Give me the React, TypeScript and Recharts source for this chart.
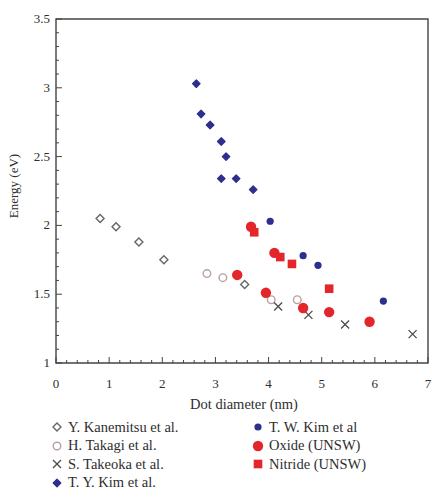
import { ScatterChart, Scatter, XAxis, YAxis, ReferenceArea, Label } from 'recharts'

// dot diameter (nm) vs energy (eV)
const kanemitsu = [
  { x: 0.83, y: 2.05 },
  { x: 1.13, y: 1.99 },
  { x: 1.56, y: 1.88 },
  { x: 2.03, y: 1.75 },
  { x: 3.55, y: 1.57 },
]
const takagi = [
  { x: 2.84, y: 1.65 },
  { x: 3.14, y: 1.62 },
  { x: 4.05, y: 1.46 },
  { x: 4.54, y: 1.46 },
]
const takeoka = [
  { x: 4.18, y: 1.41 },
  { x: 4.75, y: 1.35 },
  { x: 5.44, y: 1.28 },
  { x: 6.71, y: 1.21 },
]
const tyKim = [
  { x: 2.64, y: 3.03 },
  { x: 2.73, y: 2.81 },
  { x: 2.9, y: 2.73 },
  { x: 3.11, y: 2.61 },
  { x: 3.2, y: 2.5 },
  { x: 3.11, y: 2.34 },
  { x: 3.39, y: 2.34 },
  { x: 3.71, y: 2.26 },
]
const twKim = [
  { x: 4.03, y: 2.03 },
  { x: 4.65, y: 1.78 },
  { x: 4.93, y: 1.71 },
  { x: 6.16, y: 1.45 },
]
const oxide = [
  { x: 3.41, y: 1.64 },
  { x: 3.95, y: 1.51 },
  { x: 4.65, y: 1.4 },
  { x: 5.14, y: 1.37 },
  { x: 5.9, y: 1.3 },
  { x: 3.67, y: 1.99 },
  { x: 4.11, y: 1.8 },
]
const nitride = [
  { x: 3.73, y: 1.95 },
  { x: 4.22, y: 1.77 },
  { x: 4.44, y: 1.72 },
  { x: 5.14, y: 1.54 },
]

const xTicks = [0, 0.2, 0.4, 0.6, 0.8, 1, 1.2, 1.4, 1.6, 1.8, 2, 2.2, 2.4, 2.6, 2.8, 3, 3.2, 3.4, 3.6, 3.8, 4, 4.2, 4.4, 4.6, 4.8, 5, 5.2, 5.4, 5.6, 5.8, 6, 6.2, 6.4, 6.6, 6.8, 7]
const yTicks = [1, 1.1, 1.2, 1.3, 1.4, 1.5, 1.6, 1.7, 1.8, 1.9, 2, 2.1, 2.2, 2.3, 2.4, 2.5, 2.6, 2.7, 2.8, 2.9, 3, 3.1, 3.2, 3.3, 3.4, 3.5]
const yLabels = ['1', '1.5', '2', '2.5', '3', '3.5']

const FONT = 'Liberation Serif, Times New Roman, DejaVu Serif, serif'
const INK = '#2e2e2e'
const AXIS = '#444'
const GRAY = '#666'
const PINK = '#b99ea3'
const BLUE = '#2c2f8c'
const RED = '#e3262b'

const isMajorX = (v: number) => Math.abs(v - Math.round(v)) < 1e-6
const isMajorY = (v: number) => Math.abs(v * 2 - Math.round(v * 2)) < 1e-6

const XTick = (props: any) => {
  const { x, y, payload } = props
  const major = isMajorX(payload.value)
  return (
    <g>
      <line x1={x} y1={y} x2={x} y2={y - (major ? 6 : 3)} stroke={AXIS} />
      {major && (
        <text x={x} y={y + 25} textAnchor="middle" fontSize={13} fill={INK} style={{ fontFamily: FONT }}>
          {String(Math.round(payload.value))}
        </text>
      )}
    </g>
  )
}

const YTick = (props: any) => {
  const { x, y, payload } = props
  const major = isMajorY(payload.value)
  const label = yLabels.find((l) => Math.abs(Number(l) - payload.value) < 1e-6)
  return (
    <g>
      <line x1={x} y1={y} x2={x + (major ? 6 : 3)} y2={y} stroke={AXIS} />
      {major && label && (
        <text x={x - 6} y={y + 4} textAnchor="end" fontSize={13} fill={INK} style={{ fontFamily: FONT }}>
          {label}
        </text>
      )}
    </g>
  )
}

const OpenDiamond = ({ cx, cy }: any) => (
  <polygon
    points={`${cx},${cy - 4} ${cx + 4},${cy} ${cx},${cy + 4} ${cx - 4},${cy}`}
    fill="none"
    stroke={GRAY}
    strokeWidth={1.4}
  />
)
const OpenCircle = ({ cx, cy }: any) => (
  <circle cx={cx} cy={cy} r={3.8} fill="none" stroke={PINK} strokeWidth={1.4} />
)
const Cross = ({ cx, cy }: any) => (
  <path d={`M${cx - 4},${cy - 4}L${cx + 4},${cy + 4}M${cx - 4},${cy + 4}L${cx + 4},${cy - 4}`} stroke="#4a4a4a" strokeWidth={1.3} />
)
const BlueDiamond = ({ cx, cy }: any) => (
  <polygon
    points={`${cx},${cy - 3.8} ${cx + 3.8},${cy} ${cx},${cy + 3.8} ${cx - 3.8},${cy}`}
    fill={BLUE}
    stroke={BLUE}
    strokeWidth={1.2}
    strokeLinejoin="round"
  />
)
const BlueDot = ({ cx, cy }: any) => <circle cx={cx} cy={cy} r={3.6} fill={BLUE} />
const RedDot = ({ cx, cy }: any) => <circle cx={cx} cy={cy} r={5.2} fill={RED} />
const RedSquare = ({ cx, cy }: any) => <rect x={cx - 4.3} y={cy - 4.3} width={8.6} height={8.6} fill={RED} />

const legendLeft = [
  { name: 'Y. Kanemitsu et al.', Shape: OpenDiamond },
  { name: 'H. Takagi et al.', Shape: OpenCircle },
  { name: 'S. Takeoka et al.', Shape: Cross },
  { name: 'T. Y. Kim et al.', Shape: BlueDiamond },
]
const legendRight = [
  { name: 'T. W. Kim et al', Shape: BlueDot },
  { name: 'Oxide (UNSW)', Shape: RedDot },
  { name: 'Nitride (UNSW)', Shape: RedSquare },
]

function LegendColumn({ items, left }: { items: typeof legendLeft; left: number }) {
  return (
    <div style={{ position: 'absolute', left, top: 418 }}>
      {items.map(({ name, Shape }) => (
        <div key={name} style={{ display: 'flex', alignItems: 'center', height: 18.5 }}>
          <svg width={14} height={14} style={{ marginRight: 4 }}>
            <Shape cx={7} cy={7} />
          </svg>
          <span style={{ fontFamily: FONT, fontSize: 14.5, color: INK, whiteSpace: 'nowrap' }}>{name}</span>
        </div>
      ))}
    </div>
  )
}

export default function App() {
  return (
    <div style={{ position: 'absolute', left: 0, top: 0, width: 432, height: 497, background: '#fff', fontFamily: FONT }}>
      <ScatterChart width={432} height={497} margin={{ top: 19, right: 4, bottom: 84, left: 0 }}>
        <XAxis
          type="number"
          dataKey="x"
          domain={[0, 7]}
          ticks={xTicks}
          interval={0}
          tickSize={0}
          tickMargin={0}
          tickLine={false}
          axisLine={false}
          tick={<XTick />}
          height={50}
          label={
            <Label
              content={({ viewBox }: any) => (
                <text
                  x={viewBox.x + viewBox.width / 2 + 2}
                  y={viewBox.y + 46}
                  textAnchor="middle"
                  fontSize={14.5}
                  fill={INK}
                  style={{ fontFamily: FONT }}
                >
                  Dot diameter (nm)
                </text>
              )}
            />
          }
        />
        <YAxis
          type="number"
          dataKey="y"
          domain={[1, 3.5]}
          ticks={yTicks}
          interval={0}
          tickSize={0}
          tickMargin={0}
          tickLine={false}
          axisLine={false}
          tick={<YTick />}
          width={56}
          label={
            <Label
              content={({ viewBox }: any) => (
                <text
                  transform={`translate(18, ${viewBox.y + viewBox.height / 2 - 5}) rotate(-90)`}
                  textAnchor="middle"
                  fontSize={13}
                  fill={INK}
                  style={{ fontFamily: FONT }}
                >
                  Energy (eV)
                </text>
              )}
            />
          }
        />
        <ReferenceArea x1={0} x2={7} y1={1} y2={3.5} fill="none" stroke={AXIS} strokeWidth={1.4} fillOpacity={0} strokeOpacity={1} />
        <Scatter data={kanemitsu} shape={<OpenDiamond />} isAnimationActive={false} />
        <Scatter data={takagi} shape={<OpenCircle />} isAnimationActive={false} />
        <Scatter data={takeoka} shape={<Cross />} isAnimationActive={false} />
        <Scatter data={tyKim} shape={<BlueDiamond />} isAnimationActive={false} />
        <Scatter data={twKim} shape={<BlueDot />} isAnimationActive={false} />
        <Scatter data={oxide} shape={<RedDot />} isAnimationActive={false} />
        <Scatter data={nitride} shape={<RedSquare />} isAnimationActive={false} />
      </ScatterChart>
      <LegendColumn items={legendLeft} left={50} />
      <LegendColumn items={legendRight} left={251} />
    </div>
  )
}
